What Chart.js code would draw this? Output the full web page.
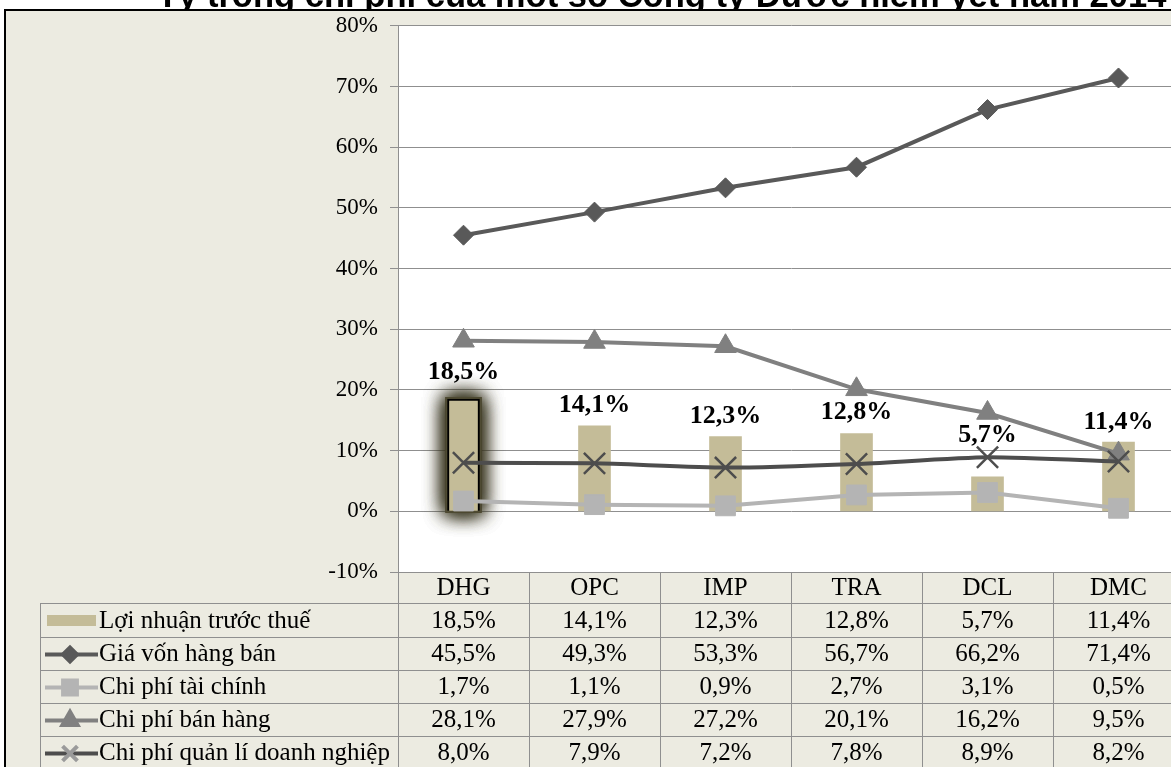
<!DOCTYPE html>
<html>
<head>
<meta charset="utf-8">
<script src="https://cdn.jsdelivr.net/npm/chart.js@4"></script>
<style>
html,body{margin:0;padding:0;overflow:hidden;background:#fff;}
#khung{width:1184px;height:767px;}
</style>
</head>
<body>
<div id="khung"><canvas id="bieudo" width="1184" height="767"></canvas></div>
<script>
// du lieu doc tu bang
const congTy = ['DHG', 'OPC', 'IMP', 'TRA', 'DCL', 'DMC'];
const loiNhuan = [18.5, 14.1, 12.3, 12.8, 5.7, 11.4];
const giaVon = [45.5, 49.3, 53.3, 56.7, 66.2, 71.4];
const taiChinh = [1.7, 1.1, 0.9, 2.7, 3.1, 0.5];
const banHang = [28.1, 27.9, 27.2, 20.1, 16.2, 9.5];
const quanLi = [8.0, 7.9, 7.2, 7.8, 8.9, 8.2];
const tenSeries = ['Lợi nhuận trước thuế', 'Giá vốn hàng bán', 'Chi phí tài chính', 'Chi phí bán hàng', 'Chi phí quản lí doanh nghiệp'];
const tieuDe = 'Tỷ trọng chi phí của một số Công ty Dược niêm yết năm 2014';
const yTicks = [-10, 0, 10, 20, 30, 40, 50, 60, 70, 80];

const nenBe = '#ecebe1';
const mauLuoi = '#8f8f8f';
const serif = 'Liberation Serif';
// khoang cach nhan so lieu tren cot (px)
const nhanCach = [20, 14, 14, 15, 35, 13];
// cac dong cua bang (px)
const dongBang = [603, 637, 670, 703, 736, 769];

const phanTram = v => v.toFixed(1).replace('.', ',') + '%';

// nen, tieu de, khung
const nenPlugin = {
  id: 'nen',
  beforeDraw(chart) {
    const ctx = chart.ctx, a = chart.chartArea;
    ctx.save();
    ctx.fillStyle = '#fff';
    ctx.fillRect(0, 0, chart.width, chart.height);
    ctx.font = 'bold 30px "Liberation Sans"';
    let w = ctx.measureText(tieuDe).width;
    let size = 30 * 1010 / w;
    ctx.font = 'bold ' + size + 'px "Liberation Sans"';
    ctx.fillStyle = '#000';
    ctx.textBaseline = 'alphabetic';
    ctx.fillText(tieuDe, 157, 7);
    ctx.fillStyle = nenBe;
    ctx.fillRect(5, 10, chart.width, chart.height);
    ctx.strokeStyle = '#000';
    ctx.lineWidth = 2;
    ctx.beginPath();
    ctx.moveTo(4, 10); ctx.lineTo(chart.width, 10);
    ctx.moveTo(5, 10); ctx.lineTo(5, chart.height);
    ctx.stroke();
    ctx.fillStyle = '#fff';
    ctx.fillRect(a.left, a.top, a.right - a.left, a.bottom - a.top);
    ctx.restore();
  },
  beforeDatasetsDraw(chart) {
    // vang sang quanh cot DHG
    const el = chart.getDatasetMeta(0).data[0];
    const ctx = chart.ctx;
    ctx.save();
    ctx.shadowColor = 'rgba(55,52,30,1)';
    ctx.shadowBlur = 20;
    ctx.fillStyle = '#4f4b33';
    const r = [el.x - el.width / 2 - 2, el.y - 2, el.width + 4, el.base - el.y + 4];
    ctx.fillRect(...r);
    ctx.fillRect(...r);
    ctx.fillRect(...r);
    ctx.restore();
  },
  afterDatasetsDraw(chart) {
    const ctx = chart.ctx;
    const meta = chart.getDatasetMeta(0);
    ctx.save();
    ctx.font = 'bold 26px "' + serif + '"';
    ctx.fillStyle = '#000';
    ctx.textAlign = 'center';
    ctx.textBaseline = 'alphabetic';
    meta.data.forEach((el, i) => {
      ctx.fillText(phanTram(loiNhuan[i]), el.x, el.y - nhanCach[i]);
    });
    ctx.restore();
  },
  afterDraw(chart) {
    const ctx = chart.ctx, x = chart.scales.x, a = chart.chartArea;
    const cot = (x.right - x.left) / congTy.length;
    const day = dongBang[dongBang.length - 1];
    ctx.save();
    ctx.strokeStyle = mauLuoi;
    ctx.lineWidth = 1;
    ctx.beginPath();
    for (let i = 0; i <= congTy.length; i++) {
      const px = Math.round(x.left + i * cot) + 0.5;
      ctx.moveTo(px, a.bottom); ctx.lineTo(px, day);
    }
    dongBang.forEach(y => { ctx.moveTo(40, y + 0.5); ctx.lineTo(chart.width, y + 0.5); });
    ctx.moveTo(40.5, dongBang[0]); ctx.lineTo(40.5, day);
    ctx.stroke();

    ctx.fillStyle = '#000';
    ctx.font = '25px "' + serif + '"';
    ctx.textBaseline = 'middle';
    ctx.textAlign = 'center';
    congTy.forEach((c, i) => ctx.fillText(c, x.getPixelForValue(i), (a.bottom + dongBang[0]) / 2 + 1));

    const bangGiaTri = [loiNhuan, giaVon, taiChinh, banHang, quanLi];
    bangGiaTri.forEach((arr, r) => {
      const yc = (dongBang[r] + dongBang[r + 1]) / 2 + 1;
      ctx.textAlign = 'center';
      ctx.fillStyle = '#000';
      arr.forEach((v, i) => ctx.fillText(phanTram(v), x.getPixelForValue(i), yc));
      ctx.textAlign = 'left';
      ctx.fillText(tenSeries[r], 99, yc);
      // ky hieu chu giai
      const ds = chart.data.datasets[r];
      if (r === 0) {
        ctx.fillStyle = ds.backgroundColor;
        ctx.fillRect(47, yc - 6, 49, 11);
      } else {
        ctx.strokeStyle = ds.borderColor;
        ctx.lineWidth = 4;
        ctx.beginPath();
        ctx.moveTo(45, yc); ctx.lineTo(98, yc);
        ctx.stroke();
        ctx.fillStyle = ds.pointBackgroundColor;
        ctx.strokeStyle = r === 4 ? '#9a9a9a' : ds.pointBorderColor;
        Chart.helpers.drawPoint(ctx, {
          pointStyle: ds.pointStyle,
          radius: ds.pointRadius * 0.7,
          borderWidth: r === 4 ? 1 : ds.pointBorderWidth,
          rotation: 0
        }, 70, yc);
      }
    });
    ctx.restore();
  }
};

new Chart(document.getElementById('bieudo'), {
  type: 'bar',
  data: {
    labels: congTy,
    datasets: [
      {
        type: 'bar', label: tenSeries[0], data: loiNhuan,
        backgroundColor: '#c4bc98', borderColor: '#000',
        borderWidth: [2, 0, 0, 0, 0, 0], barThickness: 32, order: 10
      },
      {
        type: 'line', label: tenSeries[1], data: giaVon,
        borderColor: '#595959', borderWidth: 4,
        pointStyle: 'rectRot', pointRadius: 10,
        pointBackgroundColor: '#595959', pointBorderColor: '#595959', pointBorderWidth: 1,
        order: 4
      },
      {
        type: 'line', label: tenSeries[2], data: taiChinh,
        borderColor: '#b4b4b4', borderWidth: 4,
        pointStyle: 'rect', pointRadius: 14,
        pointBackgroundColor: '#b4b4b4', pointBorderColor: '#b4b4b4', pointBorderWidth: 1,
        order: 3
      },
      {
        type: 'line', label: tenSeries[3], data: banHang,
        borderColor: '#808080', borderWidth: 4,
        pointStyle: 'triangle', pointRadius: 12.5,
        pointBackgroundColor: '#808080', pointBorderColor: '#808080', pointBorderWidth: 1,
        order: 2
      },
      {
        type: 'line', label: tenSeries[4], data: quanLi,
        borderColor: '#4d4d4d', borderWidth: 4, tension: 0.2,
        pointStyle: 'crossRot', pointRadius: 15,
        pointBackgroundColor: '#4d4d4d', pointBorderColor: '#4d4d4d', pointBorderWidth: 2.5,
        order: 1
      }
    ]
  },
  options: {
    responsive: false,
    animation: false,
    layout: { autoPadding: false, padding: { top: 22, bottom: 195, left: 0, right: 0 } },
    plugins: { legend: { display: false }, tooltip: { enabled: false } },
    scales: {
      x: { display: false, offset: true },
      y: {
        min: -10, max: 80,
        afterBuildTicks: s => { s.ticks = yTicks.map(v => ({ value: v })); },
        afterFit: s => { s.width = 398; },
        ticks: {
          callback: v => v + '%',
          font: { family: serif, size: 23 },
          color: '#000',
          padding: 12
        },
        grid: { color: mauLuoi, tickLength: 8, tickColor: mauLuoi },
        border: { color: mauLuoi }
      }
    }
  },
  plugins: [nenPlugin]
});
</script>
</body>
</html>
